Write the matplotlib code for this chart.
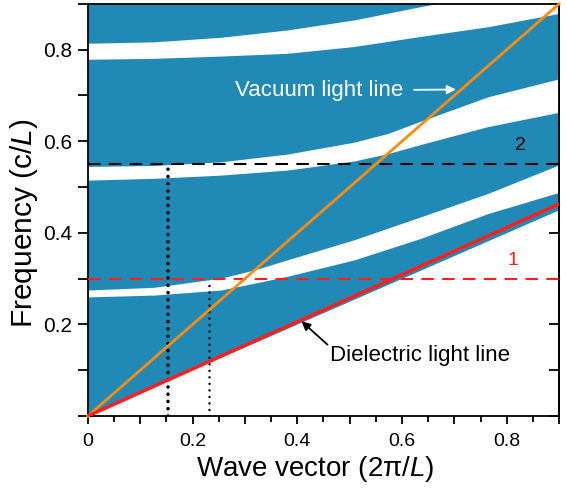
import matplotlib
matplotlib.use("Agg")
import matplotlib.pyplot as plt
from matplotlib.ticker import MultipleLocator, FuncFormatter

# ======================================================
# DATA
# ======================================================

# light lines
k_line = [0.0, 0.9]
vacuum_line = [0.0, 0.9]
dielectric_line = [0.0, 0.463]
band_floor = [0.0, 0.449]      # lower edge of the blue region

# band gaps (white), lower / upper edge
gap1_k = [0.0, 0.127, 0.255, 0.319, 0.382, 0.51, 0.637, 0.765, 0.9]
gap1_lo = [0.259, 0.263, 0.274, 0.289, 0.304, 0.340, 0.387, 0.441, 0.487]
gap1_hi = [0.274, 0.280, 0.300, 0.318, 0.340, 0.384, 0.434, 0.485, 0.547]

gap2_k = [0.0, 0.127, 0.255, 0.382, 0.51, 0.574, 0.637, 0.765, 0.9]
gap2_lo = [0.514, 0.518, 0.525, 0.536, 0.556, 0.572, 0.592, 0.631, 0.662]
gap2_hi = [0.544, 0.546, 0.554, 0.571, 0.597, 0.616, 0.643, 0.696, 0.735]

gap3_k = [0.0, 0.127, 0.255, 0.382, 0.51, 0.637, 0.765, 0.9]
gap3_lo = [0.778, 0.780, 0.785, 0.791, 0.806, 0.828, 0.849, 0.878]
gap3_hi = [0.813, 0.816, 0.826, 0.842, 0.864, 0.893, 0.920, 0.950]

# guide lines
freq_1 = 0.30
freq_2 = 0.55
k_a = 0.153
k_b = 0.231

# ======================================================
# STYLE
# ======================================================

plt.rcParams["font.family"] = ["Liberation Sans", "DejaVu Sans"]
plt.rcParams["mathtext.fontset"] = "custom"
plt.rcParams["mathtext.rm"] = "Liberation Sans"
plt.rcParams["mathtext.it"] = "Liberation Sans:italic"

BLUE = "#2089B5"
ORANGE = "#FF8C0A"
RED = "#FF1E1E"

fig = plt.figure(figsize=(5.67, 4.88), dpi=100)
ax = fig.add_axes([0.155, 0.1475, 0.831, 0.8445])

# ======================================================
# BANDS
# ======================================================

ax.fill([k_line[0], k_line[1], k_line[1], k_line[0]],
        [band_floor[0], band_floor[1], 1.0, 1.0],
        color=BLUE, lw=0, zorder=1)

for gk, lo, hi in [(gap1_k, gap1_lo, gap1_hi),
                   (gap2_k, gap2_lo, gap2_hi),
                   (gap3_k, gap3_lo, gap3_hi)]:
    ax.fill(gk + gk[::-1], lo + hi[::-1], color="white", lw=0, zorder=2)

# ======================================================
# LINES
# ======================================================

ax.plot(k_line, vacuum_line, color=ORANGE, lw=2, zorder=5, clip_on=False)
ax.plot(k_line, dielectric_line, color=RED, lw=2.5, zorder=5)

ax.axhline(freq_1, color=RED, lw=1.5, ls=(0, (6, 4)), zorder=4)
ax.axhline(freq_2, color="black", lw=1.5, ls=(0, (6, 4)), zorder=4)

ax.plot([k_a, k_a], [0, freq_2], color="black", lw=2.6,
        ls=(0, (0.01, 2.0)), dash_capstyle="round", zorder=4)
ax.plot([k_b, k_b], [0, freq_1], color="black", lw=1.8,
        ls=(0, (0.01, 2.6)), dash_capstyle="round", zorder=4)

# ======================================================
# TEXT
# ======================================================

ax.text(0.811, 0.34, "1", color=RED, fontsize=14, ha="center", va="center")
ax.text(0.827, 0.591, "2", color="black", fontsize=14, ha="center", va="center")

ax.annotate("Vacuum light line", xy=(0.703, 0.713), xytext=(0.441, 0.711),
            color="white", fontsize=16, ha="center", va="center",
            arrowprops=dict(arrowstyle="-|>", color="white", lw=1.3,
                            shrinkA=6, shrinkB=0, mutation_scale=13),
            zorder=6)

ax.annotate("Dielectric light line", xy=(0.408, 0.207), xytext=(0.463, 0.132),
            color="black", fontsize=16, ha="left", va="center",
            arrowprops=dict(arrowstyle="-|>", color="black", lw=1.3,
                            shrinkA=0, shrinkB=0, mutation_scale=13,
                            relpos=(0.0, 0.9)),
            zorder=6)

# ======================================================
# AXES
# ======================================================

ax.set_xlim(0, 0.9)
ax.set_ylim(0, 0.9)

ax.xaxis.set_major_locator(MultipleLocator(0.1))
ax.xaxis.set_minor_locator(MultipleLocator(0.05))
ax.yaxis.set_major_locator(MultipleLocator(0.1))


def even_label(v, pos):
    n = int(round(v * 10))
    if n % 2:
        return ""
    return "0" if n == 0 else "%.1f" % v


def y_label(v, pos):
    n = int(round(v * 10))
    if n % 2 or n == 0:
        return ""
    return "%.1f" % v


ax.xaxis.set_major_formatter(FuncFormatter(even_label))
ax.yaxis.set_major_formatter(FuncFormatter(y_label))

ax.tick_params(axis="x", which="major", direction="out", length=6, width=1.3,
               labelsize=14, pad=6)
ax.tick_params(axis="x", which="minor", direction="out", length=4, width=1.3)
ax.tick_params(axis="y", which="major", direction="out", length=7, width=1.3,
               labelsize=15, pad=4)

right = ax.secondary_yaxis("right")
right.yaxis.set_major_locator(MultipleLocator(0.1))
right.tick_params(direction="in", length=7, width=1.3, labelright=False)

for s in list(ax.spines.values()) + list(right.spines.values()):
    s.set_linewidth(1.3)

ax.set_xlabel("Wave vector (2\u03c0/$\\mathit{L}$)", fontsize=20,
              ha="center", va="center")
ax.set_ylabel("Frequency (c/$\\mathit{L}$)", fontsize=21.5,
              ha="center", va="center")
ax.xaxis.set_label_coords(0.482, -0.128)
ax.yaxis.set_label_coords(-0.135, 0.468)

fig.savefig("out.png", dpi=100)
